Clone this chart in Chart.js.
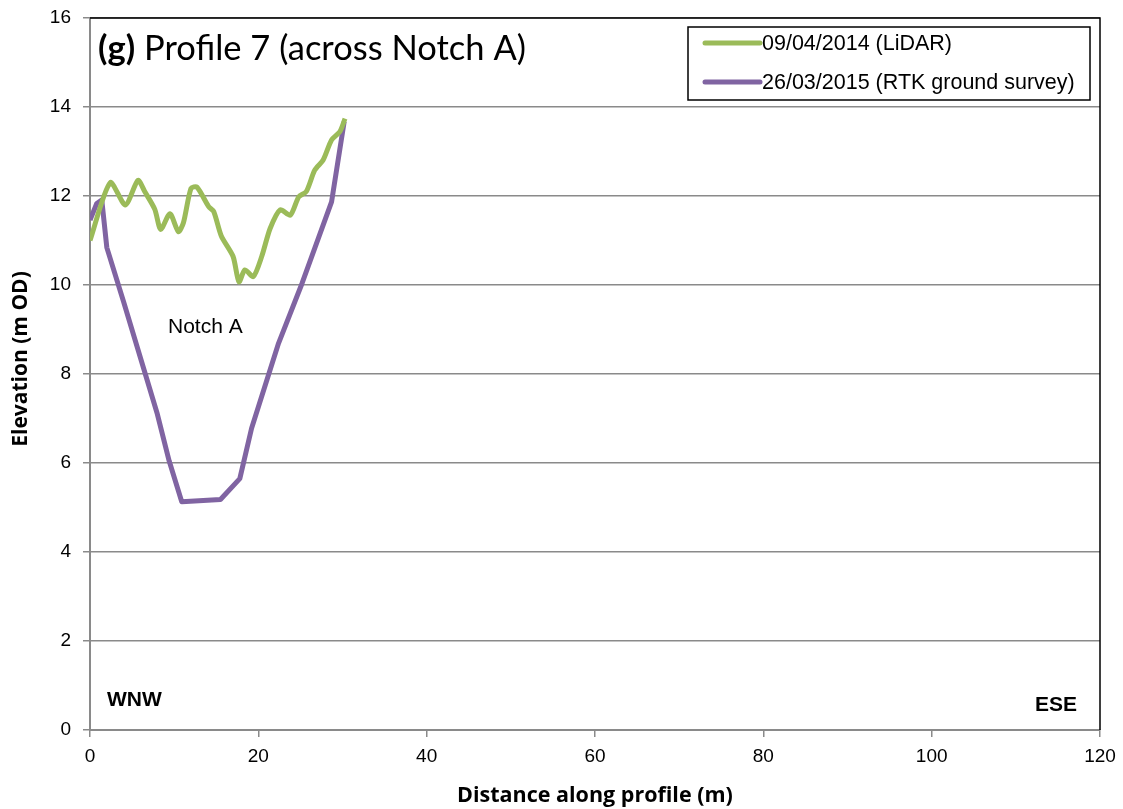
<!DOCTYPE html>
<html>
<head>
<meta charset="utf-8">
<script src="https://cdn.jsdelivr.net/npm/chart.js@4.4.1/dist/chart.umd.min.js"></script>
<style>
html,body{margin:0;padding:0;background:#fff;}
#wrap{width:1123px;height:809px;position:relative;}
</style>
</head>
<body>
<div id="wrap"><canvas id="c" width="1123" height="809"></canvas></div>
<script>
// ---- Data ----
const lidarLabel = "09/04/2014 (LiDAR)";
const lidarDist = [0, 2.4, 4.2, 5.7, 6.5, 7.7, 8.4, 9.5, 10.5, 11.1, 12.0, 12.7, 14.1, 14.7, 15.6, 17.0, 17.7, 18.4, 19.4, 20.4, 21.4, 22.6, 23.8, 24.8, 25.7, 26.7, 27.7, 28.7, 29.7, 30.3];
const lidarElev = [11.0, 12.3, 11.8, 12.35, 12.1, 11.7, 11.25, 11.6, 11.2, 11.4, 12.17, 12.2, 11.76, 11.65, 11.1, 10.64, 10.07, 10.34, 10.19, 10.64, 11.27, 11.69, 11.57, 11.98, 12.1, 12.58, 12.81, 13.26, 13.45, 13.74];
const rtkLabel = "26/03/2015 (RTK ground survey)";
const rtkDist = [0, 0.8, 1.4, 2.0, 4.0, 8.0, 9.4, 10.9, 15.5, 17.8, 19.2, 22.4, 25.2, 28.7, 30.2];
const rtkElev = [11.46, 11.83, 11.91, 10.84, 9.62, 7.1, 6.05, 5.13, 5.18, 5.65, 6.78, 8.69, 10.04, 11.87, 13.67];
const xTicks = [0, 20, 40, 60, 80, 100, 120];
const yTicks = [0, 2, 4, 6, 8, 10, 12, 14, 16];
const chartTitleBold = "(g)";
const chartTitleRest = " Profile 7 (across Notch A)";
const xAxisTitle = "Distance along profile (m)";
const yAxisTitle = "Elevation (m OD)";
const notchLabel = "Notch A";
const leftDir = "WNW";
const rightDir = "ESE";

const toPts = (xs, ys) => xs.map((x, i) => ({x: x, y: ys[i]}));

const annot = {
  id: 'annot',
  afterDraw(chart) {
    const ctx = chart.ctx;
    const a = chart.chartArea;
    ctx.save();
    // plot border top/right
    ctx.strokeStyle = '#000';
    ctx.lineWidth = 1.5;
    ctx.beginPath();
    ctx.moveTo(a.left, a.top); ctx.lineTo(a.right, a.top); ctx.lineTo(a.right, a.bottom);
    ctx.stroke();
    // title
    ctx.fillStyle = '#000';
    ctx.textBaseline = 'alphabetic';
    ctx.textAlign = 'left';
    ctx.font = 'bold 34.5px Lato';
    const tx = a.left + 8, ty = 60;
    ctx.fillText(chartTitleBold, tx, ty);
    const w = ctx.measureText(chartTitleBold).width;
    ctx.font = '34.5px Lato';
    ctx.fillText(chartTitleRest, tx + w, ty);
    // y axis title
    ctx.save();
    ctx.translate(21, 359);
    ctx.rotate(-Math.PI / 2);
    ctx.textAlign = 'center';
    ctx.textBaseline = 'middle';
    ctx.font = 'bold 21px "Open Sans"';
    ctx.fillText(yAxisTitle, 0, 0);
    ctx.restore();
    // annotations
    ctx.textBaseline = 'middle';
    ctx.textAlign = 'left';
    ctx.font = '21px "Liberation Sans", Arial';
    ctx.fillText(notchLabel, 168, 327);
    ctx.font = 'bold 21px "Liberation Sans", Arial';
    ctx.fillText(leftDir, a.left + 17, 700);
    ctx.textAlign = 'right';
    ctx.fillText(rightDir, a.right - 23, 705);
    // legend
    const bx = 688, by = 27, bw = 402, bh = 73;
    ctx.fillStyle = '#fff';
    ctx.fillRect(bx, by, bw, bh);
    ctx.strokeStyle = '#000';
    ctx.lineWidth = 1.5;
    ctx.strokeRect(bx, by, bw, bh);
    const items = chart.data.datasets;
    ctx.textAlign = 'left';
    ctx.font = '21.5px "Liberation Sans", Arial';
    items.forEach((d, i) => {
      const yy = by + 16 + i * 39;
      ctx.strokeStyle = d.borderColor;
      ctx.lineWidth = 5;
      ctx.lineCap = 'round';
      ctx.beginPath(); ctx.moveTo(705, yy); ctx.lineTo(760, yy); ctx.stroke();
      ctx.fillStyle = '#000';
      ctx.fillText(d.label, 762, yy + 1);
    });
    ctx.restore();
  }
};

new Chart(document.getElementById('c'), {
  type: 'scatter',
  data: {
    datasets: [
      {label: lidarLabel, data: toPts(lidarDist, lidarElev), showLine: true, borderColor: '#9BBB59', borderWidth: 5, pointRadius: 0, tension: 0.25, borderJoinStyle: 'round'},
      {label: rtkLabel, data: toPts(rtkDist, rtkElev), showLine: true, borderColor: '#8064A2', borderWidth: 5, pointRadius: 0, tension: 0, borderJoinStyle: 'round'}
    ]
  },
  options: {
    responsive: false,
    animation: false,
    devicePixelRatio: 1,
    layout: {padding: {left: 0, top: 18, right: 23, bottom: 0}},
    plugins: {legend: {display: false}, tooltip: {enabled: false}},
    scales: {
      x: {
        type: 'linear', min: 0, max: 120,
        afterBuildTicks: s => { s.ticks = xTicks.map(v => ({value: v})); },
        afterFit: s => { s.height = 79; s.paddingLeft = 0; s.paddingRight = 0; },
        grid: {drawOnChartArea: false, drawTicks: true, tickLength: 7, color: '#8a8a8a', lineWidth: 1.5},
        border: {color: '#8a8a8a', width: 2},
        ticks: {color: '#000', font: {family: '"Liberation Sans", Arial', size: 19}, padding: 8, maxRotation: 0},
        title: {display: true, text: xAxisTitle, color: '#000', font: {family: '"Open Sans"', size: 21.5, weight: 'bold'}, padding: {top: 2, bottom: 0}}
      },
      y: {
        type: 'linear', min: 0, max: 16,
        afterBuildTicks: s => { s.ticks = yTicks.map(v => ({value: v})); },
        afterFit: s => { s.width = 90; s.paddingTop = 0; s.paddingBottom = 0; },
        grid: {drawOnChartArea: true, drawTicks: true, tickLength: 7, color: '#8a8a8a', lineWidth: 1.5},
        border: {color: '#8a8a8a', width: 2},
        ticks: {color: '#000', font: {family: '"Liberation Sans", Arial', size: 19}, padding: 12}
      }
    }
  },
  plugins: [annot]
});
</script>
</body>
</html>
